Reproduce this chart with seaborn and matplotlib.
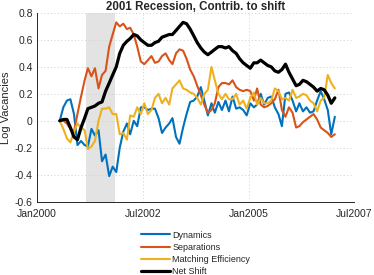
import numpy as np
import pandas as pd
import matplotlib
matplotlib.use("Agg")
import matplotlib.pyplot as plt
import matplotlib.dates as mdates
import seaborn as sns

dates = pd.date_range("2000-06-15", periods=79, freq="MS") + pd.Timedelta(days=14)

dynamics = [0.0, 0.10, 0.15, 0.16, 0.05, -0.18, -0.15, -0.18, -0.19, -0.06,
            -0.11, -0.07, -0.30, -0.25, -0.41, -0.34, -0.38, -0.20, -0.08, -0.02,
            -0.10, 0.00, -0.04, 0.10, 0.10, 0.08, 0.09, 0.09, 0.02, -0.09,
            -0.05, -0.02, 0.02, -0.12, -0.17, -0.05, 0.05, 0.14, 0.15, 0.18,
            0.25, 0.15, 0.04, 0.13, 0.06, 0.14, 0.08, 0.15, 0.07, 0.18,
            0.09, 0.10, 0.08, 0.04, 0.13, 0.10, 0.12, 0.20, 0.12, 0.17,
            0.18, 0.10, 0.05, -0.04, 0.20, 0.21, 0.15, 0.07, 0.13, 0.07,
            0.10, 0.06, 0.07, 0.15, 0.22, 0.16, 0.08, -0.10, 0.03]

separations = [0.0, 0.0, -0.02, -0.06, -0.08, 0.05, 0.18, 0.30, 0.39, 0.33,
               0.39, 0.24, 0.34, 0.37, 0.55, 0.64, 0.73, 0.70, 0.72, 0.68,
               0.69, 0.64, 0.55, 0.44, 0.42, 0.45, 0.48, 0.43, 0.44, 0.48,
               0.50, 0.45, 0.42, 0.50, 0.53, 0.52, 0.46, 0.38, 0.33, 0.26,
               0.19, 0.12, 0.06, 0.08, 0.13, 0.25, 0.28, 0.28, 0.27, 0.30,
               0.25, 0.23, 0.22, 0.23, 0.22, 0.15, 0.24, 0.12, 0.10, 0.11,
               0.13, 0.16, 0.23, 0.08, 0.03, 0.10, 0.06, -0.05, -0.04, -0.01,
               0.01, 0.03, 0.05, 0.01, -0.05, -0.07, -0.09, -0.12, -0.10]

matching = [0.0, -0.06, -0.13, -0.16, -0.08, -0.02, -0.05, -0.07, -0.21, -0.19,
            -0.15, 0.0, 0.09, 0.09, 0.10, 0.05, 0.05, -0.10, -0.09, -0.14,
            0.04, 0.03, 0.10, 0.05, 0.13, 0.05, 0.08, 0.17, 0.20, 0.13,
            0.17, 0.12, 0.24, 0.27, 0.30, 0.24, 0.23, 0.21, 0.20, 0.17,
            0.12, 0.20, 0.23, 0.40, 0.30, 0.20, 0.16, 0.20, 0.16, 0.16,
            0.20, 0.12, 0.15, 0.09, 0.17, 0.21, 0.12, 0.17, 0.13, 0.13,
            0.15, 0.24, 0.22, 0.16, 0.17, 0.15, 0.23, 0.17, 0.18, 0.20,
            0.19, 0.15, 0.13, 0.07, 0.15, 0.17, 0.34, 0.28, 0.24]

net_shift = [0.0, 0.01, 0.01, -0.05, -0.12, -0.14, -0.05, 0.02, 0.09, 0.10,
             0.11, 0.13, 0.14, 0.22, 0.28, 0.34, 0.40, 0.50, 0.56, 0.59,
             0.61, 0.64, 0.63, 0.60, 0.58, 0.56, 0.56, 0.58, 0.59, 0.62,
             0.63, 0.64, 0.64, 0.67, 0.70, 0.73, 0.72, 0.68, 0.63, 0.58,
             0.54, 0.51, 0.49, 0.51, 0.53, 0.55, 0.55, 0.54, 0.55, 0.52,
             0.50, 0.46, 0.43, 0.41, 0.39, 0.43, 0.43, 0.45, 0.43, 0.41,
             0.40, 0.37, 0.36, 0.38, 0.42, 0.36, 0.31, 0.26, 0.27, 0.30,
             0.29, 0.27, 0.25, 0.22, 0.24, 0.23, 0.19, 0.13, 0.17]

series_names = ["Dynamics", "Separations", "Matching Efficiency", "Net Shift"]
series_colors = ["#0072BD", "#D95319", "#EDB120", "#000000"]
series_widths = [1.5, 1.5, 1.5, 2.3]
recession = (pd.Timestamp("2001-03-01"), pd.Timestamp("2001-11-01"))
xtick_dates = ["2000-01-01", "2002-07-01", "2005-01-01", "2007-07-01"]
yticks = [-0.6, -0.4, -0.2, 0, 0.2, 0.4, 0.6, 0.8]

df = pd.DataFrame({"date": list(dates) * 4,
                   "value": dynamics + separations + matching + net_shift,
                   "series": sum([[n] * len(dates) for n in series_names], [])})

sns.set_style("white")
plt.rcParams["font.family"] = ["Liberation Sans", "DejaVu Sans"]

fig = plt.figure(figsize=(3.74, 2.75), dpi=100)
ax = fig.add_axes([0.099, 0.2665, 0.848, 0.6865])

ax.axvspan(recession[0], recession[1], color="#e3e3e3", lw=0, zorder=0)

for name, col, lw in zip(series_names, series_colors, series_widths):
    sub = df[df["series"] == name]
    sns.lineplot(data=sub, x="date", y="value", color=col, lw=lw, ax=ax,
                 label=name, legend=False, zorder=3)

ax.set_xlim(pd.Timestamp("2000-01-01"), pd.Timestamp("2007-07-01"))
ax.set_ylim(-0.6, 0.8)
ax.set_xticks([pd.Timestamp(d) for d in xtick_dates])
ax.xaxis.set_major_formatter(mdates.DateFormatter("%b%Y"))
ax.set_yticks(yticks)
ax.set_yticklabels(["-0.6", "-0.4", "-0.2", "0", "0.2", "0.4", "0.6", "0.8"])
ax.grid(True, linestyle=(0, (1, 2.5)), color="#cfcfcf", lw=0.7)
ax.set_axisbelow(True)
for s in ["top", "right"]:
    ax.spines[s].set_visible(False)
for s in ["left", "bottom"]:
    ax.spines[s].set_color("#262626")
    ax.spines[s].set_linewidth(0.7)
ax.tick_params(direction="in", length=3, width=0.7, colors="#262626",
               labelsize=7.5)
ax.tick_params(axis="x", pad=5)
ax.tick_params(axis="y", pad=3)
ax.set_xlabel("")
ax.set_ylabel("Log Vacancies", fontsize=8, color="#262626", labelpad=3)
ax.set_title("2001 Recession, Contrib. to shift", fontsize=8.3,
             fontweight="bold", pad=2)

handles, labels = ax.get_legend_handles_labels()
fig.legend(handles, labels, loc="upper center", bbox_to_anchor=(0.523, 0.178),
           frameon=False, fontsize=6.5, handlelength=3.2, handletextpad=0.3,
           labelspacing=0.35, borderpad=0)

fig.savefig("out.png", dpi=100)
